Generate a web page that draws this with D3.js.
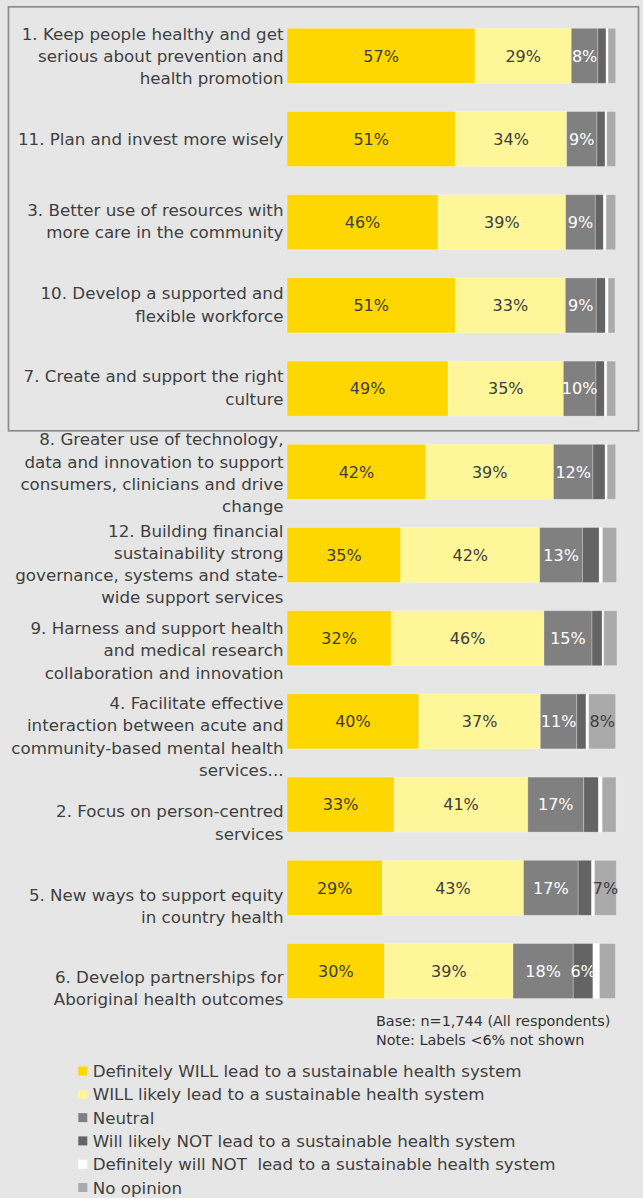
<!DOCTYPE html>
<html><head><meta charset="utf-8"><script src="https://cdn.jsdelivr.net/npm/d3@7"></script>
<style>body{margin:0;background:#e6e6e6}svg{display:block}text{font-family:"DejaVu Sans",sans-serif}</style></head>
<body>
<svg id="chart" width="643" height="1198"></svg>
<script>
// ---- data ----
const categories = [
  "1. Keep people healthy and get\nserious about prevention and\nhealth promotion",
  "11. Plan and invest more wisely",
  "3. Better use of resources with\nmore care in the community",
  "10. Develop a supported and\nflexible workforce",
  "7. Create and support the right\nculture",
  "8. Greater use of technology,\ndata and innovation to support\nconsumers, clinicians and drive\nchange",
  "12. Building financial\nsustainability strong\ngovernance, systems and state-\nwide support services",
  "9. Harness and support health\nand medical research\ncollaboration and innovation",
  "4. Facilitate effective\ninteraction between acute and\ncommunity-based mental health\nservices...",
  "2. Focus on person-centred\nservices",
  "5. New ways to support equity\nin country health",
  "6. Develop partnerships for\nAboriginal health outcomes"
];
const seriesNames = [
  "Definitely WILL lead to a sustainable health system",
  "WILL likely lead to a sustainable health system",
  "Neutral",
  "Will likely NOT lead to a sustainable health system",
  "Definitely will NOT  lead to a sustainable health system",
  "No opinion"
];
const definitelyWill = [57.2, 51.2, 45.9, 51.2, 49.0, 42.2, 34.6, 31.7, 40.1, 32.6, 29.0, 29.7];
const willLikely     = [29.2, 33.8, 38.8, 33.4, 35.0, 38.8, 42.2, 46.4, 36.9, 40.6, 42.9, 39.0];
const neutral        = [8.1, 9.2, 9.0, 9.4, 9.9, 12.0, 13.0, 14.6, 11.1, 17.0, 16.6, 18.3];
const likelyNot      = [2.5, 2.5, 2.5, 2.8, 2.6, 3.7, 5.1, 3.1, 2.8, 4.5, 4.1, 6.0];
const definitelyNot  = [0.6, 0.5, 0.8, 0.8, 0.7, 0.6, 1.0, 0.5, 0.8, 1.1, 0.9, 2.0];
const noOpinion      = [2.3, 2.7, 2.9, 2.1, 2.7, 2.6, 4.3, 4.0, 8.2, 4.2, 6.6, 4.8];
const notes = ["Base: n=1,744 (All respondents)", "Note: Labels <6% not shown"];

// ---- styling / layout ----
const colors = ["#ffd700", "#fff599", "#808080", "#646464", "#ffffff", "#aaaaaa"];
const labelColors = ["#3d3d3d", "#3d3d3d", "#ffffff", "#ffffff", "#3d3d3d", "#3d3d3d"];
const labelNudge = [0, 0, -1, -1, -1, 1, 9, 12, 15, 18, 18, 17]; // category label vertical nudges
const textColor = "#404040";

const series = [definitelyWill, willLikely, neutral, likelyNot, definitelyNot, noOpinion];
const keys = seriesNames.map((d, i) => "s" + i);
const rows = categories.map((c, i) => {
  const r = {cat: c};
  keys.forEach((k, j) => r[k] = series[j][i]);
  return r;
});

const svg = d3.select("#chart");
svg.append("rect").attr("width", 643).attr("height", 1198).attr("fill", "#e6e6e6");

const x = d3.scaleLinear().domain([0, 100]).range([287, 616]);
const y = d3.scaleBand().domain(categories).range([14.2, 14.2 + 12 * 83.2])
  .paddingInner(0.339).paddingOuter(0.1695);

const stacked = d3.stack().keys(keys)(rows);

// highlight box round first five rows
svg.append("rect").attr("x", 8.5).attr("y", 6.8).attr("width", 630).attr("height", 424)
  .attr("fill", "none").attr("stroke", "#8c8c8c").attr("stroke-width", 1.7);

const layers = svg.append("g").selectAll("g").data(stacked).join("g")
  .attr("fill", (d, i) => colors[i]);
layers.selectAll("rect").data(d => d).join("rect")
  .attr("x", d => x(d[0]))
  .attr("y", d => y(d.data.cat))
  .attr("width", d => x(d[1]) - x(d[0]))
  .attr("height", y.bandwidth())
  .attr("stroke", "rgba(255,255,255,0.35)")
  .attr("stroke-width", 0.8);

// value labels
const vl = svg.append("g");
stacked.forEach((layer, i) => {
  vl.selectAll(null).data(layer.filter(d => Math.round(d[1] - d[0]) >= 6)).join("text")
    .attr("x", d => (x(d[0]) + x(d[1])) / 2)
    .attr("y", d => y(d.data.cat) + y.bandwidth() / 2)
    .attr("dy", "0.36em")
    .attr("text-anchor", "middle")
    .attr("fill", labelColors[i])
    .style("font-size", "16px")
    .text(d => Math.round(d[1] - d[0]) + "%");
});

// category labels
const lineH = 22.3;
const cl = svg.append("g");
categories.forEach((c, i) => {
  const lines = c.split("\n");
  const cy = y(c) + y.bandwidth() / 2 + labelNudge[i];
  const t = cl.append("text").attr("text-anchor", "end").attr("fill", textColor)
    .style("font-size", "16.7px");
  lines.forEach((ln, k) => {
    t.append("tspan").attr("x", 283.5)
      .attr("y", cy + (k - (lines.length - 1) / 2) * lineH)
      .attr("dy", "0.36em").text(ln);
  });
});

// notes
svg.append("g").selectAll("text").data(notes).join("text")
  .attr("x", 376).attr("y", (d, i) => 1020.5 + i * 19.5).attr("dy", "0.36em")
  .attr("fill", "#333").style("font-size", "14.4px").text(d => d);

// legend
const lg = svg.append("g").selectAll("g").data(seriesNames).join("g")
  .attr("transform", (d, i) => `translate(78.3, ${1071 + i * 23.3})`);
lg.append("rect").attr("x", 0).attr("y", -4.5).attr("width", 9).attr("height", 9)
  .attr("fill", (d, i) => colors[i]);
lg.append("text").attr("x", 14.4).attr("y", 0).attr("dy", "0.36em")
  .attr("fill", textColor).style("font-size", "16.7px").style("white-space", "pre")
  .text(d => d);
</script></body></html>
